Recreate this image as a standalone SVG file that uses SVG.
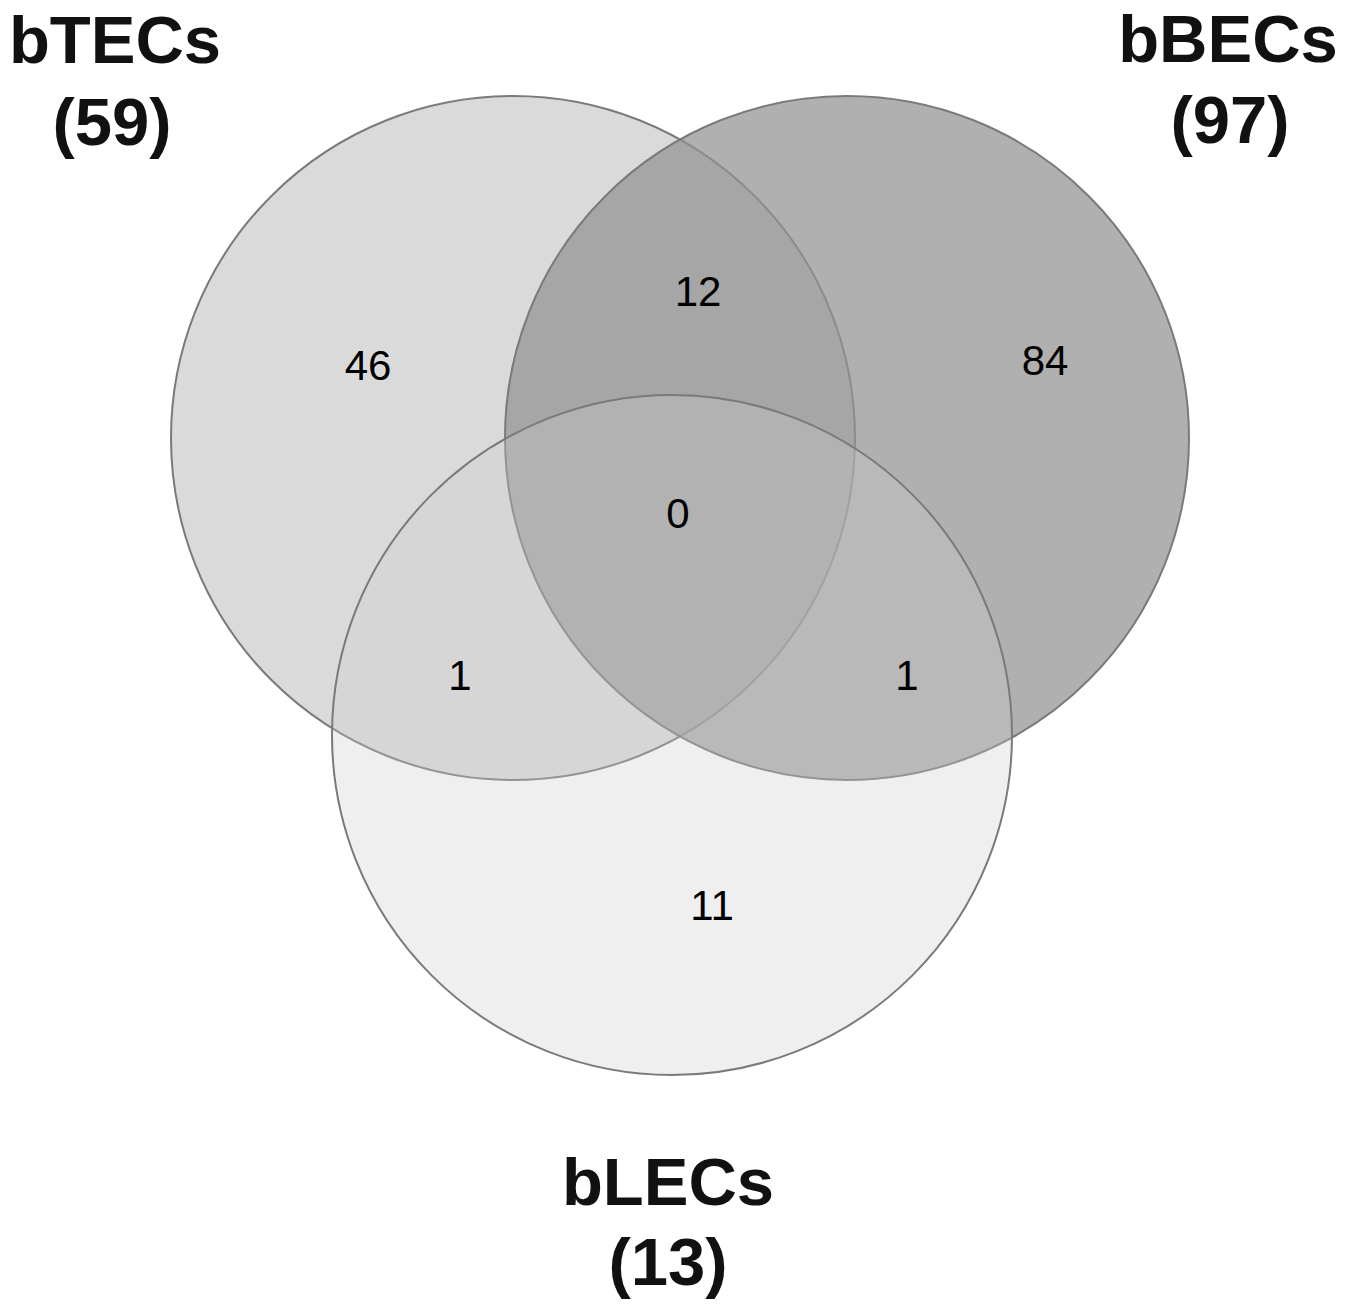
<svg xmlns="http://www.w3.org/2000/svg" width="1350" height="1307" viewBox="0 0 1350 1307">
<style>
.c{stroke:#7a7a7a;stroke-width:2}
.lab{font-family:"Liberation Sans",Arial,sans-serif;font-weight:bold;font-size:67px;fill:#111;text-anchor:middle}
.num{font-family:"Liberation Sans",Arial,sans-serif;font-size:42px;fill:#000;text-anchor:middle}
</style>
<rect width="1350" height="1307" fill="#fff"/>
<g id="bTECs">
<circle class="c" cx="513" cy="438" r="342" fill="#dadada"/>
</g>
<g id="bBECs">
<circle class="c" cx="847" cy="438" r="342" fill="#939393" fill-opacity="0.73"/>
</g>
<g id="bLECs">
<circle class="c" cx="672" cy="735" r="340" fill="#cdcdcd" fill-opacity="0.32"/>
</g>
<g id="connectors"></g>
<g id="labels">
<text class="lab" x="115" y="63">bTECs</text>
<text class="lab" x="112" y="145">(59)</text>
<text class="lab" x="1228" y="62">bBECs</text>
<text class="lab" x="1230" y="143">(97)</text>
<text class="lab" x="668" y="1205">bLECs</text>
<text class="lab" x="668" y="1285">(13)</text>
</g>
<g id="counts">
<text class="num" x="368" y="380">46</text>
<text class="num" x="698" y="306">12</text>
<text class="num" x="1045" y="375">84</text>
<text class="num" x="678" y="528">0</text>
<text class="num" x="460" y="690">1</text>
<text class="num" x="907" y="690">1</text>
<text class="num" x="712" y="920">11</text>
</g>
</svg>
